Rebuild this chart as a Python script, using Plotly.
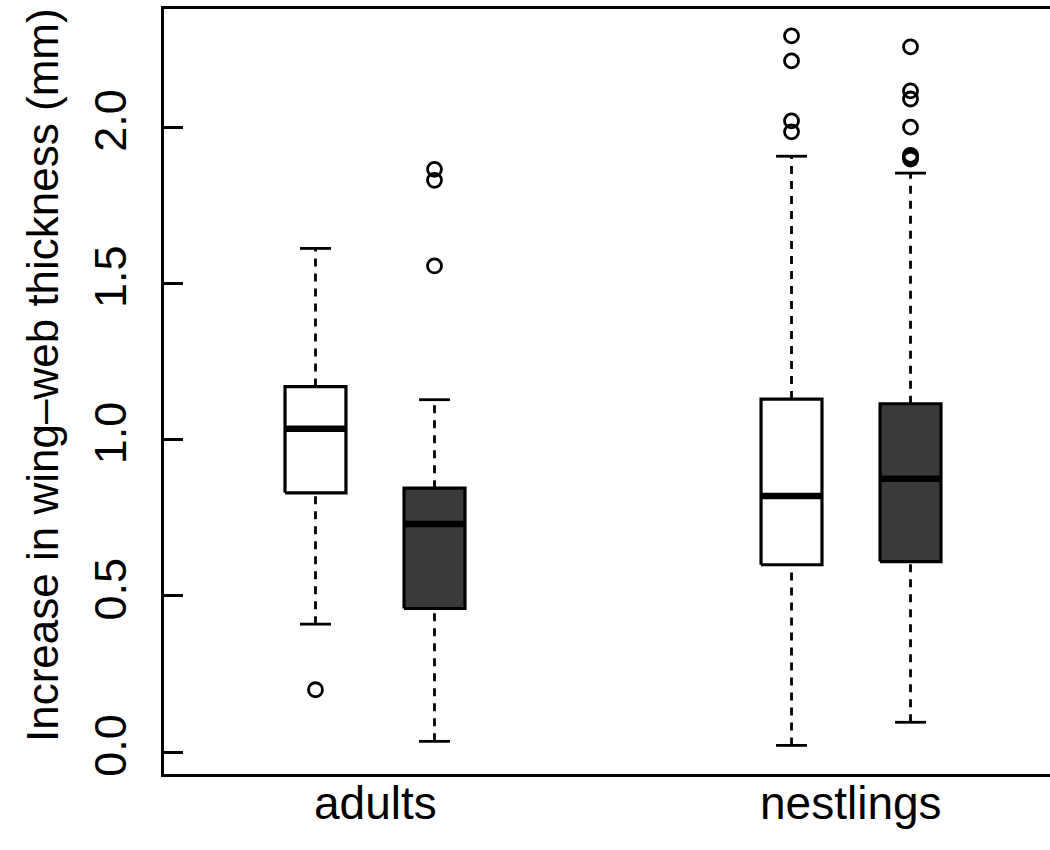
import plotly.graph_objects as go

# Box positions along the x axis (two groups, two treatments each)
positions = [1, 2, 5, 6]
fills = ["white", "#3a3a3a", "white", "#3a3a3a"]

# Five-number summaries per box
lower_whisker = [0.41, 0.035, 0.022, 0.096]
q1 = [0.83, 0.46, 0.60, 0.61]
median = [1.035, 0.73, 0.82, 0.875]
q3 = [1.17, 0.845, 1.13, 1.115]
upper_whisker = [1.612, 1.128, 1.907, 1.853]

# Outlying observations per box
outliers = [
    [0.20],
    [1.865, 1.83, 1.556],
    [2.292, 2.212, 2.02, 1.985],
    [2.257, 2.116, 2.09, 2.0, 1.91, 1.905, 1.898],
]

group_labels = ["adults", "nestlings"]
group_centers = [1.5, 5.5]

y_ticks = [0, 0.5, 1.0, 1.5, 2.0]
y_tick_text = ["0.0", "0.5", "1.0", "1.5", "2.0"]

half_box = 0.256
half_cap = 0.13
FONT = "Liberation Sans, Arial, Helvetica, sans-serif"

fig = go.Figure()

for i, x in enumerate(positions):
    # dashed whiskers
    for a, b in ((lower_whisker[i], q1[i]), (q3[i], upper_whisker[i])):
        fig.add_trace(go.Scatter(
            x=[x, x], y=[a, b], mode="lines",
            line=dict(color="black", width=2.8, dash="8px,7px"),
            hoverinfo="skip", showlegend=False))
    # whisker caps
    for v in (lower_whisker[i], upper_whisker[i]):
        fig.add_trace(go.Scatter(
            x=[x - half_cap, x + half_cap], y=[v, v], mode="lines",
            line=dict(color="black", width=2.8),
            hoverinfo="skip", showlegend=False))
    # box body
    fig.add_trace(go.Scatter(
        x=[x - half_box, x + half_box, x + half_box, x - half_box, x - half_box],
        y=[q1[i], q1[i], q3[i], q3[i], q1[i]],
        mode="lines", fill="toself", fillcolor=fills[i],
        line=dict(color="black", width=3.2),
        hoverinfo="skip", showlegend=False))
    # median bar
    fig.add_trace(go.Scatter(
        x=[x - half_box, x + half_box], y=[median[i], median[i]], mode="lines",
        line=dict(color="black", width=6.5),
        hoverinfo="skip", showlegend=False))
    # outliers
    fig.add_trace(go.Scatter(
        x=[x] * len(outliers[i]), y=outliers[i], mode="markers",
        marker=dict(symbol="circle-open", size=14, color="black",
                    line=dict(width=2.8, color="black")),
        hoverinfo="skip", showlegend=False))

# group labels under the x axis
annotations = [
    dict(text=lab, xref="x", yref="paper", x=cx, y=0,
         xanchor="center", yanchor="middle", yshift=-29, showarrow=False,
         font=dict(size=46, family=FONT, color="black"))
    for lab, cx in zip(group_labels, group_centers)
]
# y axis title
annotations.append(dict(
    text="Increase in wing\u2013web thickness (mm)",
    xref="paper", yref="paper", x=0, y=0.5216,
    xanchor="center", yanchor="middle", xshift=-121,
    textangle=-90, showarrow=False,
    font=dict(size=44, family=FONT, color="black"),
))

fig.update_layout(
    width=1050, height=850,
    margin=dict(l=164, r=0, t=9, b=76),
    paper_bgcolor="white", plot_bgcolor="white",
    font=dict(family=FONT, size=44, color="black"),
    xaxis=dict(
        range=[-0.273, 7.172], showgrid=False, zeroline=False,
        showline=True, linewidth=3, linecolor="black", mirror=True,
        showticklabels=False, ticks="",
    ),
    yaxis=dict(
        range=[-0.0695, 2.378], showgrid=False, zeroline=False,
        showline=True, linewidth=3, linecolor="black",
        tickmode="array", tickvals=y_ticks, ticktext=y_tick_text,
        ticks="inside", ticklen=19, tickwidth=2.8, tickcolor="black",
        tickangle=-90, tickfont=dict(size=45, family=FONT, color="black"),
        ticklabelstandoff=17,
    ),
    annotations=annotations,
)

fig.write_html("out.html")
